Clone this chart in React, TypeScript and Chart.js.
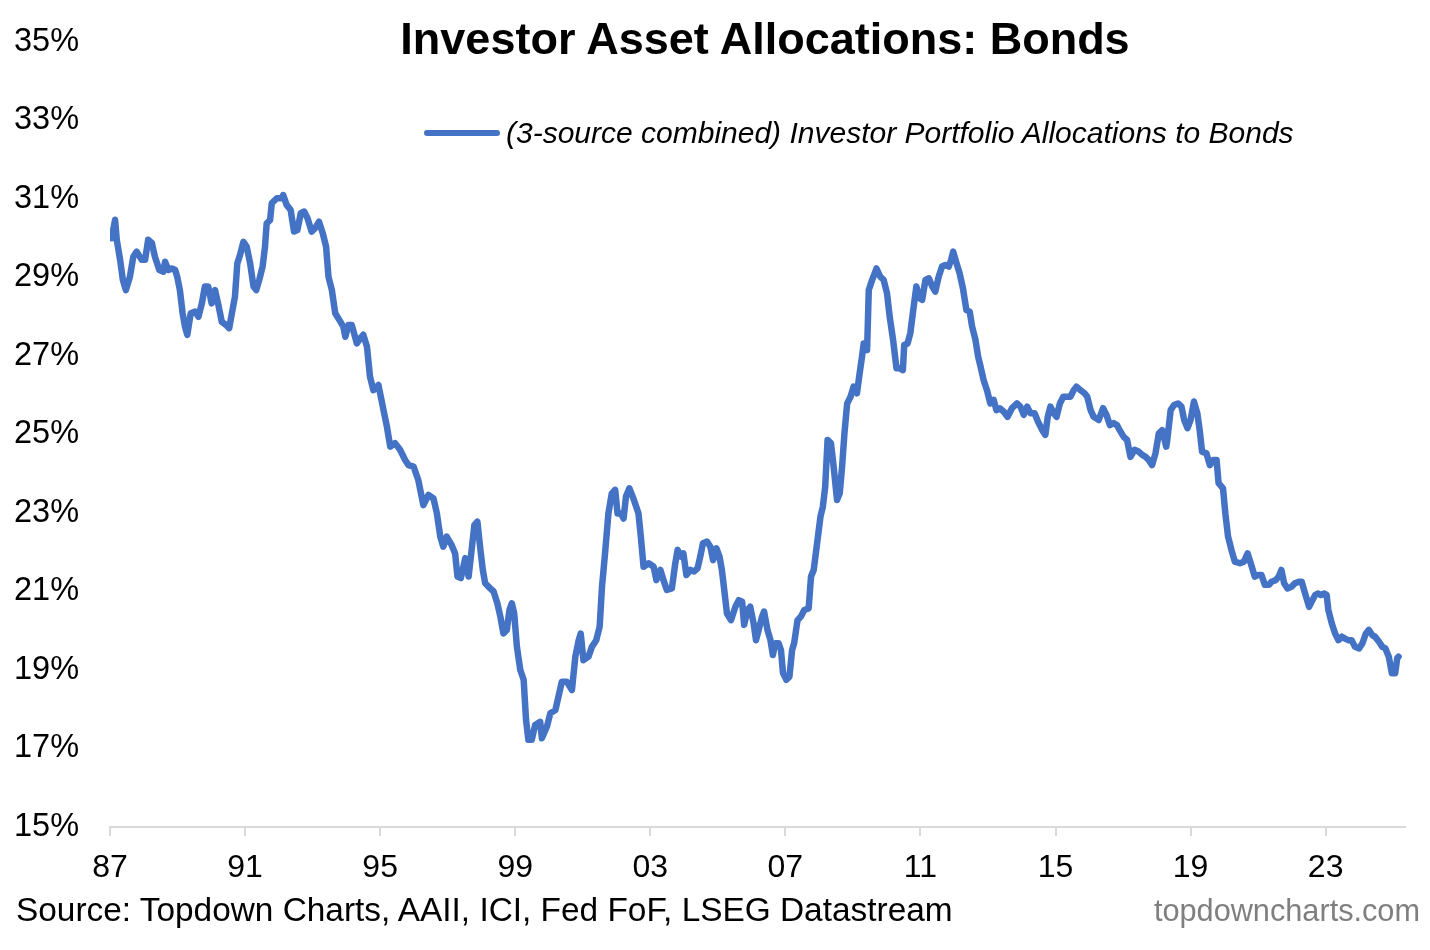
import React, { useEffect, useRef } from "react";
import { Chart, registerables } from "chart.js";

Chart.register(...registerables);

const TITLE = "Investor Asset Allocations: Bonds";
const SERIES_LABEL = "(3-source combined) Investor Portfolio Allocations to Bonds";
const SOURCE = "Source: Topdown Charts, AAII, ICI, Fed FoF, LSEG Datastream";
const WATERMARK = "topdowncharts.com";

const xTickYears = [1987, 1991, 1995, 1999, 2003, 2007, 2011, 2015, 2019, 2023];
const yTickValues = [15, 17, 19, 21, 23, 25, 27, 29, 31, 33, 35];

const dates = [
  1987.05, 1987.15, 1987.2, 1987.3, 1987.38, 1987.47, 1987.59, 1987.69, 1987.79, 1987.94,
  1988.04, 1988.13, 1988.24, 1988.33, 1988.46, 1988.58, 1988.63, 1988.73, 1988.83, 1988.93,
  1988.99, 1989.07, 1989.15, 1989.22, 1989.29, 1989.39, 1989.52, 1989.62, 1989.72, 1989.81,
  1989.91, 1990.01, 1990.11, 1990.21, 1990.31, 1990.44, 1990.53, 1990.61, 1990.7, 1990.77,
  1990.85, 1990.95, 1991.05, 1991.15, 1991.25, 1991.33, 1991.42, 1991.52, 1991.59, 1991.64,
  1991.74, 1991.79, 1991.94, 1992.09, 1992.13, 1992.23, 1992.35, 1992.45, 1992.55, 1992.65,
  1992.75, 1992.85, 1992.97, 1993.07, 1993.19, 1993.3, 1993.4, 1993.47, 1993.57, 1993.67,
  1993.79, 1993.91, 1993.97, 1994.06, 1994.16, 1994.31, 1994.41, 1994.5, 1994.61, 1994.7,
  1994.8, 1994.95, 1995.1, 1995.2, 1995.3, 1995.44, 1995.59, 1995.74, 1995.84, 1995.99,
  1996.13, 1996.28, 1996.43, 1996.58, 1996.68, 1996.78, 1996.87, 1996.97, 1997.12, 1997.22,
  1997.29, 1997.39, 1997.52, 1997.62, 1997.72, 1997.79, 1997.88, 1997.96, 1998.04, 1998.11,
  1998.26, 1998.36, 1998.47, 1998.56, 1998.65, 1998.75, 1998.83, 1998.9, 1998.97, 1999.05,
  1999.15, 1999.25, 1999.32, 1999.39, 1999.49, 1999.59, 1999.74, 1999.79, 1999.94, 2000.04,
  2000.19, 2000.28, 2000.38, 2000.53, 2000.68, 2000.78, 2000.88, 2000.94, 2001.02, 2001.17,
  2001.27, 2001.4, 2001.5, 2001.57, 2001.66, 2001.76, 2001.86, 2001.96, 2002.03, 2002.13,
  2002.21, 2002.28, 2002.38, 2002.5, 2002.65, 2002.72, 2002.8, 2002.95, 2003.1, 2003.18,
  2003.3, 2003.39, 2003.49, 2003.64, 2003.74, 2003.81, 2003.91, 2003.98, 2004.07, 2004.19,
  2004.3, 2004.4, 2004.48, 2004.56, 2004.68, 2004.78, 2004.86, 2004.96, 2005.05, 2005.12,
  2005.19, 2005.27, 2005.39, 2005.52, 2005.62, 2005.72, 2005.78, 2005.88, 2005.96, 2006.06,
  2006.13, 2006.21, 2006.31, 2006.37, 2006.47, 2006.56, 2006.63, 2006.7, 2006.8, 2006.87,
  2006.93, 2007.03, 2007.12, 2007.2, 2007.26, 2007.36, 2007.46, 2007.56, 2007.69, 2007.76,
  2007.84, 2007.94, 2008.04, 2008.11, 2008.18, 2008.25, 2008.35, 2008.43, 2008.53, 2008.61,
  2008.68, 2008.75, 2008.83, 2008.93, 2009.02, 2009.12, 2009.2, 2009.27, 2009.32, 2009.42,
  2009.47, 2009.57, 2009.7, 2009.81, 2009.91, 2010.01, 2010.09, 2010.19, 2010.29, 2010.38,
  2010.48, 2010.52, 2010.62, 2010.7, 2010.8, 2010.88, 2010.98, 2011.05, 2011.15, 2011.25,
  2011.35, 2011.44, 2011.54, 2011.64, 2011.74, 2011.84, 2011.91, 2011.97, 2012.07, 2012.16,
  2012.26, 2012.36, 2012.46, 2012.53, 2012.63, 2012.71, 2012.78, 2012.87, 2012.97, 2013.07,
  2013.17, 2013.25, 2013.35, 2013.47, 2013.58, 2013.71, 2013.86, 2013.96, 2014.06, 2014.16,
  2014.26, 2014.38, 2014.48, 2014.61, 2014.7, 2014.77, 2014.85, 2014.95, 2015.03, 2015.13,
  2015.23, 2015.34, 2015.44, 2015.54, 2015.62, 2015.74, 2015.86, 2015.94, 2016.04, 2016.13,
  2016.28, 2016.41, 2016.51, 2016.61, 2016.72, 2016.82, 2016.9, 2017.02, 2017.12, 2017.22,
  2017.34, 2017.47, 2017.57, 2017.67, 2017.76, 2017.86, 2017.96, 2018.06, 2018.16, 2018.28,
  2018.31, 2018.41, 2018.51, 2018.63, 2018.73, 2018.81, 2018.91, 2019.0, 2019.1, 2019.2,
  2019.27, 2019.34, 2019.47, 2019.57, 2019.67, 2019.77, 2019.83, 2019.96, 2020.03, 2020.11,
  2020.21, 2020.31, 2020.46, 2020.58, 2020.69, 2020.8, 2020.9, 2021.0, 2021.1, 2021.2,
  2021.32, 2021.4, 2021.52, 2021.61, 2021.69, 2021.77, 2021.87, 2021.99, 2022.09, 2022.21,
  2022.29, 2022.39, 2022.51, 2022.61, 2022.69, 2022.77, 2022.86, 2022.96, 2023.03, 2023.08,
  2023.18, 2023.28, 2023.38, 2023.48, 2023.57, 2023.67, 2023.77, 2023.87, 2023.99, 2024.09,
  2024.19, 2024.28, 2024.38, 2024.46, 2024.58, 2024.68, 2024.77, 2024.87, 2024.96, 2025.06,
  2025.12, 2025.16,
];

const allocationPct = [
  30.0, 30.47, 29.96, 29.45, 28.94, 28.68, 29.02, 29.53, 29.66, 29.45,
  29.45, 29.96, 29.88, 29.53, 29.19, 29.15, 29.4, 29.19, 29.23, 29.19,
  29.02, 28.68, 28.09, 27.75, 27.54, 28.09, 28.13, 28.0, 28.34, 28.77,
  28.77, 28.34, 28.68, 28.3, 27.87, 27.79, 27.71, 28.09, 28.51, 29.36,
  29.57, 29.91, 29.78, 29.36, 28.77, 28.68, 28.94, 29.28, 29.78, 30.38,
  30.46, 30.89, 31.02, 31.02, 31.1, 30.85, 30.72, 30.17, 30.21, 30.64,
  30.68, 30.51, 30.17, 30.25, 30.42, 30.13, 29.78, 29.02, 28.68, 28.09,
  27.92, 27.75, 27.49, 27.79, 27.79, 27.32, 27.45, 27.54, 27.24, 26.47,
  26.13, 26.26, 25.62, 25.2, 24.69, 24.78, 24.61, 24.35, 24.22, 24.18,
  23.84, 23.2, 23.46, 23.37, 22.99, 22.4, 22.14, 22.4, 22.18, 21.97,
  21.38, 21.34, 21.85, 21.38, 22.14, 22.69, 22.78, 22.14, 21.55, 21.21,
  21.08, 21.0, 20.7, 20.36, 19.93, 20.02, 20.53, 20.7, 20.44, 19.59,
  19.0, 18.75, 17.73, 17.22, 17.22, 17.6, 17.68, 17.26, 17.56, 17.9,
  17.98, 18.32, 18.7, 18.7, 18.49, 19.34, 19.76, 19.93, 19.25, 19.34,
  19.59, 19.76, 20.1, 21.12, 21.97, 22.99, 23.5, 23.59, 22.99, 22.99,
  22.86, 23.42, 23.63, 23.37, 22.99, 22.4, 21.63, 21.72, 21.63, 21.29,
  21.55, 21.29, 21.04, 21.08, 21.72, 22.06, 21.89, 21.97, 21.42, 21.55,
  21.51, 21.59, 21.89, 22.23, 22.27, 22.14, 21.8, 22.1, 21.89, 21.55,
  21.04, 20.44, 20.27, 20.61, 20.78, 20.74, 20.15, 20.53, 20.61, 20.19,
  19.76, 20.02, 20.36, 20.49, 20.02, 19.76, 19.38, 19.68, 19.68, 19.51,
  18.92, 18.75, 18.83, 19.51, 19.68, 20.27, 20.36, 20.53, 20.57, 21.38,
  21.55, 22.23, 22.91, 23.16, 23.67, 24.86, 24.78, 24.18, 23.33, 23.5,
  24.18, 25.03, 25.79, 25.96, 26.22, 26.05, 26.56, 26.98, 27.32, 27.15,
  28.68, 28.94, 29.23, 29.02, 28.94, 28.6, 28.0, 27.41, 26.69, 26.69,
  26.64, 27.28, 27.32, 27.58, 28.26, 28.77, 28.47, 28.43, 28.94, 28.98,
  28.77, 28.64, 29.02, 29.28, 29.32, 29.28, 29.45, 29.66, 29.36, 29.11,
  28.72, 28.17, 28.13, 27.75, 27.41, 26.98, 26.73, 26.39, 26.13, 25.79,
  25.88, 25.62, 25.67, 25.58, 25.45, 25.67, 25.79, 25.71, 25.5, 25.71,
  25.54, 25.54, 25.33, 25.11, 24.99, 25.45, 25.71, 25.54, 25.45, 25.79,
  25.96, 25.96, 25.96, 26.13, 26.22, 26.13, 26.05, 25.96, 25.62, 25.45,
  25.37, 25.67, 25.5, 25.24, 25.29, 25.24, 25.11, 24.94, 24.86, 24.43,
  24.61, 24.56, 24.48, 24.43, 24.35, 24.22, 24.52, 25.03, 25.11, 24.69,
  24.86, 25.62, 25.75, 25.79, 25.71, 25.37, 25.16, 25.37, 25.84, 25.54,
  25.11, 24.56, 24.52, 24.22, 24.35, 24.35, 23.76, 23.63, 22.99, 22.4,
  22.06, 21.76, 21.72, 21.76, 21.97, 21.67, 21.38, 21.42, 21.42, 21.17,
  21.17, 21.25, 21.29, 21.38, 21.55, 21.21, 21.08, 21.12, 21.21, 21.25,
  21.25, 20.95, 20.61, 20.78, 20.91, 20.95, 20.91, 20.95, 20.91, 20.53,
  20.19, 19.93, 19.76, 19.85, 19.8, 19.76, 19.76, 19.59, 19.55, 19.68,
  19.93, 20.02, 19.89, 19.85, 19.72, 19.59, 19.55, 19.34, 18.92, 18.92,
  19.3, 19.34,
];

const FONT = "'Liberation Sans', Arial, Helvetica, sans-serif";
const BLUE = "#4472C4";
const AXIS_GRAY = "#d9d9d9";

export default function App() {
  const canvasRef = useRef<HTMLCanvasElement | null>(null);

  useEffect(() => {
    document.body.style.margin = "0";
    const canvas = canvasRef.current;
    if (!canvas) return;
    const points = dates.map((d, i) => ({ x: d, y: allocationPct[i] }));
    const chart = new Chart(canvas, {
      type: "line",
      data: {
        datasets: [
          {
            label: SERIES_LABEL,
            data: points,
            borderColor: BLUE,
            borderWidth: 6.5,
            pointRadius: 0,
            tension: 0,
            borderJoinStyle: "round",
            borderCapStyle: "round",
            fill: false,
          },
        ],
      },
      options: {
        animation: false,
        responsive: true,
        maintainAspectRatio: false,
        layout: { padding: { left: 14, right: 25, top: 42, bottom: 63 } },
        plugins: {
          legend: { display: false },
          title: { display: false },
          tooltip: { enabled: false },
        },
        scales: {
          x: {
            type: "linear",
            min: 1987,
            max: 2025.35,
            afterBuildTicks: (scale: any) => {
              scale.ticks = xTickYears.map((v) => ({ value: v }));
            },
            afterFit: (scale: any) => {
              scale.height = 60;
            },
            ticks: {
              callback: (v: any) => String(v).slice(2),
              font: { family: FONT, size: 32 },
              color: "#000",
              padding: 13,
              maxRotation: 0,
              autoSkip: false,
            },
            grid: {
              display: true,
              drawOnChartArea: false,
              drawTicks: true,
              tickLength: 9,
              color: AXIS_GRAY,
              lineWidth: 2,
            },
            border: { display: true, color: AXIS_GRAY, width: 2 },
          },
          y: {
            type: "linear",
            min: 15,
            max: 35,
            afterBuildTicks: (scale: any) => {
              scale.ticks = yTickValues.map((v) => ({ value: v }));
            },
            afterFit: (scale: any) => {
              scale.width = 96;
            },
            ticks: {
              callback: (v: any) => v + "%",
              font: { family: FONT, size: 32.5 },
              color: "#000",
              crossAlign: "far",
              padding: 0,
              autoSkip: false,
            },
            grid: { display: false, drawTicks: false },
            border: { display: false },
          },
        },
      },
    });
    return () => chart.destroy();
  }, []);

  return (
    <div
      style={{
        position: "absolute",
        left: 0,
        top: 0,
        width: 1430,
        height: 950,
        background: "#fff",
        fontFamily: FONT,
        color: "#000",
        overflow: "hidden",
      }}
    >
      <div style={{ position: "absolute", left: 0, top: 0, width: 1430, height: 950 }}>
        <canvas ref={canvasRef} />
      </div>
      <div
        style={{
          position: "absolute",
          left: 765,
          top: 15,
          transform: "translateX(-50%)",
          fontSize: 45,
          fontWeight: "bold",
          lineHeight: "48px",
          whiteSpace: "nowrap",
        }}
      >
        {TITLE}
      </div>
      <div
        style={{
          position: "absolute",
          left: 424,
          top: 130,
          width: 76,
          height: 6,
          borderRadius: 3,
          background: BLUE,
        }}
      />
      <div
        style={{
          position: "absolute",
          left: 506,
          top: 116,
          fontSize: 30,
          fontStyle: "italic",
          lineHeight: "34px",
          whiteSpace: "nowrap",
        }}
      >
        {SERIES_LABEL}
      </div>
      <div
        style={{
          position: "absolute",
          left: 16,
          top: 891,
          fontSize: 33.4,
          lineHeight: "38px",
          whiteSpace: "nowrap",
        }}
      >
        {SOURCE}
      </div>
      <div
        style={{
          position: "absolute",
          right: 10,
          top: 893,
          fontSize: 30.7,
          lineHeight: "36px",
          color: "#7f7f7f",
          whiteSpace: "nowrap",
        }}
      >
        {WATERMARK}
      </div>
    </div>
  );
}
